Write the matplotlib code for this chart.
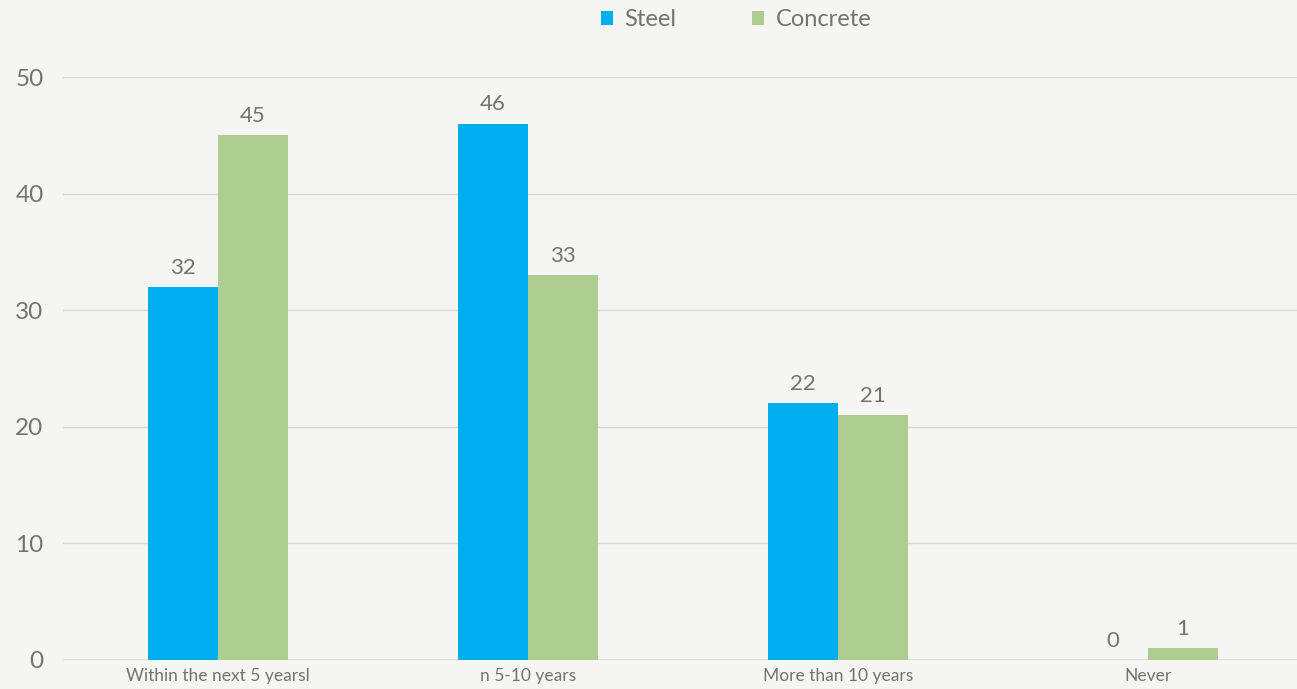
import numpy as np
import matplotlib
matplotlib.use("Agg")
import matplotlib.pyplot as plt

categories = ["Within the next 5 yearsl", "n 5-10 years", "More than 10 years", "Never"]
steel = [32, 46, 22, 0]
concrete = [45, 33, 21, 1]

BG = "#F5F5F3"
TXT = "#737373"
C_STEEL = "#00AEEF"
C_CONC = "#ADCD91"

plt.rcParams["font.family"] = ["Lato", "DejaVu Sans"]

fig = plt.figure(figsize=(12.97, 6.89), dpi=100, facecolor=BG)
ax = fig.add_axes([63 / 1297, 29 / 689, 1240 / 1297, 583 / 689], facecolor=BG)

x = np.arange(len(categories))
w = 0.226
b1 = ax.bar(x - w / 2, steel, w, color=C_STEEL, label="Steel", zorder=3)
b2 = ax.bar(x + w / 2, concrete, w, color=C_CONC, label="Concrete", zorder=3)

for bars, vals in ((b1, steel), (b2, concrete)):
    for r, v in zip(bars, vals):
        ax.text(r.get_x() + r.get_width() / 2, v + 0.8, f"{v}",
                ha="center", va="bottom", fontsize=16, color=TXT)

ax.set_xlim(-0.5, 3.5)
ax.set_ylim(0, 50)
ax.set_yticks(range(0, 51, 10))
ax.set_xticks(x)
ax.set_xticklabels(categories)
ax.grid(axis="y", color="#D9D9D9", linewidth=1, zorder=0)
for s in ax.spines.values():
    s.set_visible(False)
ax.axhline(0, color="#D9D9D9", linewidth=1.2, zorder=2)
ax.tick_params(axis="y", length=0, labelsize=17.5, labelcolor=TXT, pad=14)
ax.tick_params(axis="x", length=0, labelsize=12.5, labelcolor=TXT, pad=6)

fig.legend(handles=[b1, b2], labels=["Steel", "Concrete"], loc="center",
           bbox_to_anchor=(736 / 1297, 1 - 20 / 689), ncol=2, frameon=False,
           fontsize=17, labelcolor=TXT, handlelength=0.5, handleheight=0.5,
           columnspacing=3.2, handletextpad=0.5)

fig.savefig("out.png", dpi=100, facecolor=BG)
